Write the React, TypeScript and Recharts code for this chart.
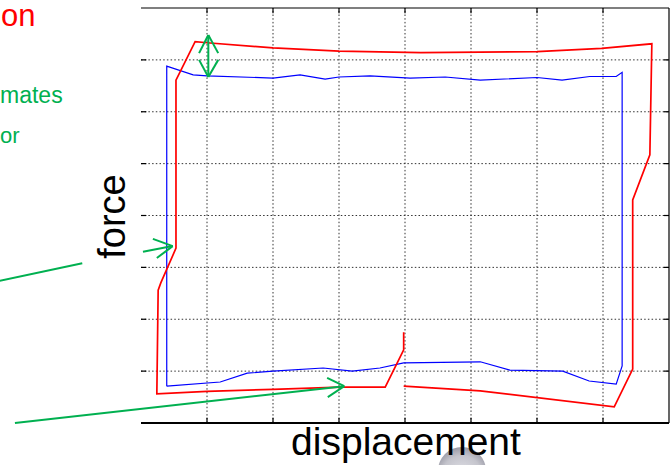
import React from 'react';
import { ComposedChart, Line, XAxis, YAxis, ReferenceLine } from 'recharts';

// grid / tick positions (data units)
const gridTicks = [1, 2, 3, 4, 5, 6, 7];

// red loop (displacement, force)
const redX = [3.98, 5.14, 7.17, 7.45, 7.45, 7.71, 7.74, 6.98, 6.0, 5.14, 4.24, 3.0, 2.0, 1.0, 0.82, 0.53, 0.53, 0.30, 0.26, 0.24, 1.0, 2.0, 3.02, 3.70, 3.98, 3.98];
const redY = [0.71, 0.62, 0.31, 1.04, 4.30, 5.17, 7.31, 7.22, 7.16, 7.15, 7.14, 7.17, 7.23, 7.33, 7.35, 6.61, 3.37, 2.70, 2.56, 0.56, 0.61, 0.65, 0.69, 0.69, 1.41, 1.75];

// blue loop (displacement, force)
const blueX = [0.39, 0.39, 0.79, 1.0, 2.0, 2.41, 2.79, 3.0, 3.47, 4.08, 4.61, 5.14, 6.0, 6.38, 6.80, 7.20, 7.29, 7.29, 7.20, 6.79, 6.39, 5.59, 5.14, 3.98, 3.62, 3.20, 2.76, 2.0, 1.61, 1.20, 0.39];
const blueY = [0.71, 6.88, 6.71, 6.69, 6.65, 6.71, 6.63, 6.67, 6.69, 6.65, 6.67, 6.61, 6.66, 6.61, 6.68, 6.68, 6.76, 1.10, 0.75, 0.81, 1.00, 1.02, 1.18, 1.16, 1.06, 1.00, 1.06, 1.00, 0.96, 0.79, 0.71];

// green annotation segments [x1, y1, x2, y2] in data units
const greenSegments = [
  [1.02, 7.48, 1.02, 6.67],
  [0.88, 7.13, 1.02, 7.48],
  [1.17, 7.13, 1.02, 7.48],
  [0.88, 7.0, 1.02, 6.67],
  [1.17, 7.0, 1.02, 6.67],
  [-2.14, 2.74, -0.89, 3.08],
  [0.03, 3.30, 0.48, 3.41],
  [0.18, 3.55, 0.48, 3.41],
  [0.24, 3.18, 0.48, 3.41],
  [-1.91, 0.0, 3.08, 0.71],
  [2.82, 0.87, 3.08, 0.71],
  [2.83, 0.50, 3.08, 0.71],
];

const zip = (xs: number[], ys: number[]) => xs.map((x, i) => ({ x, y: ys[i] }));
const red = zip(redX, redY);
const blue = zip(blueX, blueY);

const font = '"Liberation Sans", Arial, Helvetica, sans-serif';
const XMIN = 0, XMAX = 8, YMIN = 0, YMAX = 8;
const TX = 0.08, TY = 0.1; // inward tick length in data units

export default function App() {
  const ax = { xAxisId: 'b', yAxisId: 'l' } as const;
  return (
    <div style={{ position: 'absolute', left: 0, top: 0, width: 670, height: 465, overflow: 'hidden', background: '#fff', fontFamily: font }}>
      <ComposedChart width={670} height={465} margin={{ top: 8, right: 1, bottom: 42, left: 141 }}>
        <XAxis xAxisId="b" type="number" dataKey="x" domain={[XMIN, XMAX]} allowDataOverflow hide />
        <YAxis yAxisId="l" type="number" domain={[YMIN, YMAX]} allowDataOverflow hide />
        {gridTicks.map((t) => (
          <ReferenceLine key={'gx' + t} {...ax} x={t} stroke="#333" strokeDasharray="1.5 2.2" strokeWidth={1} />
        ))}
        {gridTicks.map((t) => (
          <ReferenceLine key={'gy' + t} {...ax} y={t} stroke="#333" strokeDasharray="1.5 2.2" strokeWidth={1} />
        ))}
        {gridTicks.map((t) => (
          <ReferenceLine key={'tb' + t} {...ax} ifOverflow="visible" segment={[{ x: t, y: YMIN }, { x: t, y: YMIN + TY }]} stroke="#000" strokeWidth={1.2} />
        ))}
        {gridTicks.map((t) => (
          <ReferenceLine key={'tt' + t} {...ax} ifOverflow="visible" segment={[{ x: t, y: YMAX }, { x: t, y: YMAX - TY }]} stroke="#000" strokeWidth={1.2} />
        ))}
        {gridTicks.map((t) => (
          <ReferenceLine key={'tl' + t} {...ax} ifOverflow="visible" segment={[{ x: XMIN, y: t }, { x: XMIN + TX, y: t }]} stroke="#000" strokeWidth={1.2} />
        ))}
        {gridTicks.map((t) => (
          <ReferenceLine key={'tr' + t} {...ax} ifOverflow="visible" segment={[{ x: XMAX, y: t }, { x: XMAX - TX, y: t }]} stroke="#000" strokeWidth={1.2} />
        ))}
        <ReferenceLine {...ax} ifOverflow="visible" y={YMAX} stroke="#000" strokeWidth={1.2} />
        <ReferenceLine {...ax} ifOverflow="visible" x={XMAX} stroke="#000" strokeWidth={1.2} />
        <ReferenceLine {...ax} ifOverflow="visible" y={YMIN} stroke="#000" strokeWidth={1.8} />
        <Line {...ax} data={blue} dataKey="y" type="linear" stroke="#0000ff" strokeWidth={1.2} dot={false} activeDot={false} isAnimationActive={false} />
        <Line {...ax} data={red} dataKey="y" type="linear" stroke="#ff0000" strokeWidth={1.7} dot={false} activeDot={false} isAnimationActive={false} />
        {greenSegments.map((s, i) => (
          <ReferenceLine key={'g' + i} {...ax} ifOverflow="visible" segment={[{ x: s[0], y: s[1] }, { x: s[2], y: s[3] }]} stroke="#00b050" strokeWidth={2} />
        ))}
      </ComposedChart>
      <svg width={670} height={465} style={{ position: 'absolute', left: 0, top: 0, pointerEvents: 'none' }}>
        <defs>
          <radialGradient id="ball" cx="0.5" cy="0.6" r="0.6">
            <stop offset="0" stopColor="#e4e4ea" />
            <stop offset="0.7" stopColor="#c4c4cc" />
            <stop offset="1" stopColor="#9a9aa6" />
          </radialGradient>
        </defs>
        <circle cx={462} cy={471} r={24} fill="url(#ball)" />
        <text x={1} y={26} fill="#ff0000" fontSize={31} fontFamily={font}>on</text>
        <text x={0} y={103} fill="#00b050" fontSize={23} fontFamily={font}>mates</text>
        <text x={0} y={143} fill="#00b050" fontSize={22} fontFamily={font}>or</text>
        <text transform="translate(125,216.5) rotate(-90)" textAnchor="middle" fontSize={38} fontFamily={font} fill="#000">force</text>
        <text x={406} y={455} textAnchor="middle" fontSize={39} fontFamily={font} fill="#000">displacement</text>
      </svg>
    </div>
  );
}
